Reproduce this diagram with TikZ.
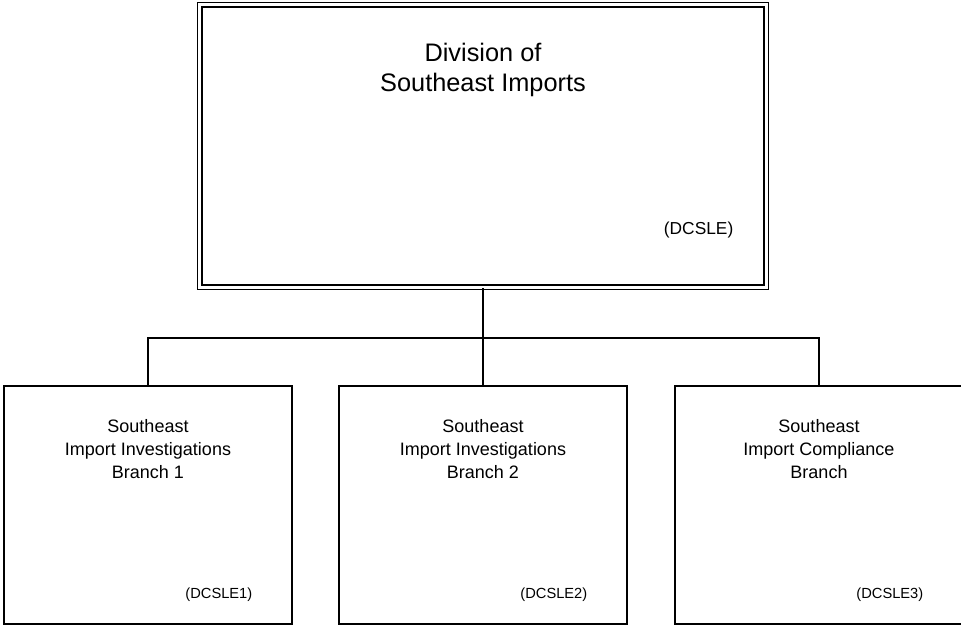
\documentclass[tikz,border=0pt]{standalone}
\usepackage{fontspec}
\setmainfont{Liberation Sans}
\usetikzlibrary{positioning}

\begin{document}
\begin{tikzpicture}
      [x=0.75pt, y=-0.75pt,
       every node/.style={align=center},
       division/.style={draw, double, line width=1.1pt, double distance=2.2pt,
         inner sep=0pt, minimum width=425pt, minimum height=212pt},
       branch/.style={draw, line width=1.2pt, inner sep=0pt,
         minimum width=216pt, minimum height=178.5pt},
       title/.style={font=\fontsize{19}{23}\selectfont},
       unitname/.style={font=\fontsize{13.5}{17}\selectfont},
       unitcode/.style={font=\fontsize{11}{13}\selectfont, anchor=east}]
      \useasboundingbox (0, 0) rectangle (961, 626);

      % boxes
      \node (div) [division] at (483, 146) {};
      \node (sib1) [branch] at (148, 505) {};
      \node (sib2) [branch] at (483, 505) {};
      \node (sicb) [branch] at (819, 505) {};

      % texts
      \node (divname) [title] at (483, 70) {Division of\\Southeast Imports};
      \node (divcode) [font=\fontsize{13}{15}\selectfont, anchor=east] at (738, 230) {(DCSLE)};
      \node (sib1name) [unitname] at (148, 449) {Southeast\\Import Investigations\\Branch 1};
      \node (sib2name) [unitname] at (483, 449) {Southeast\\Import Investigations\\Branch 2};
      \node (sicbname) [unitname] at (819, 449) {Southeast\\Import Compliance\\Branch};
      \node (sib1code) [unitcode] at (257, 595) {(DCSLE1)};
      \node (sib2code) [unitcode] at (592, 595) {(DCSLE2)};
      \node (sicbcode) [unitcode] at (928, 595) {(DCSLE3)};

      % connectors
      \coordinate (bus) at (483, 338);
      \draw [line width=1.2pt] (div.south) -- (sib2.north);
      \draw [line width=1.2pt] (sib1.north) |- (bus) -| (sicb.north);
\end{tikzpicture}
\end{document}
